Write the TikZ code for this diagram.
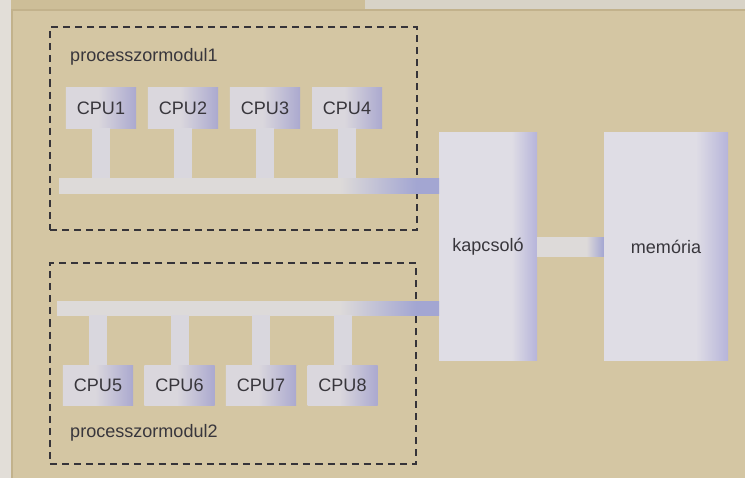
\documentclass[tikz,border=0pt]{standalone}
\usepackage{fontspec}
\setmainfont{Liberation Sans}
\usepackage{tikz}
\usetikzlibrary{positioning,fit,calc}

\definecolor{paper}{HTML}{D4C6A3}
\definecolor{paperdk}{HTML}{C2B28C}
\definecolor{edgeL}{HTML}{E2DED8}
\definecolor{edgeT}{HTML}{CDBE98}
\definecolor{edgeTR}{HTML}{D8D3C7}
\definecolor{cpuL}{HTML}{DAD7DD}
\definecolor{cpuR}{HTML}{ABA9CF}
\definecolor{blkL}{HTML}{DFDDE5}
\definecolor{blkR}{HTML}{B6B4DA}
\definecolor{busL}{HTML}{DDDAD9}
\definecolor{busR}{HTML}{A3A6D2}
\definecolor{stemc}{HTML}{D9D7DE}
\definecolor{dashc}{HTML}{363439}
\definecolor{txt}{HTML}{38363C}

\pgfdeclarehorizontalshading{cpushade}{100bp}{color(0bp)=(cpuL); color(25bp)=(cpuL);
  color(48bp)=(cpuL); color(75bp)=(cpuR); color(100bp)=(cpuR)}
\pgfdeclarehorizontalshading{blkshade}{100bp}{color(0bp)=(blkL); color(25bp)=(blkL);
  color(62bp)=(blkL); color(75bp)=(blkR); color(100bp)=(blkR)}
\pgfdeclarehorizontalshading{busshade}{100bp}{color(0bp)=(busL); color(25bp)=(busL);
  color(62bp)=(busL); color(72bp)=(busR); color(100bp)=(busR)}
\pgfdeclarehorizontalshading{linkshade}{100bp}{color(0bp)=(busL); color(25bp)=(busL);
  color(62bp)=(busL); color(75bp)=(busR); color(100bp)=(busR)}

\tikzset{
  cpu/.style={shading=cpushade,minimum width=2.1cm,minimum height=1.2cm,inner sep=0pt},
  blk/.style={shading=blkshade,minimum width=2.94cm,minimum height=6.81cm,inner sep=0pt},
  bus/.style={shading=busshade,inner sep=0pt},
  stem/.style={draw=stemc,line width=0.54cm},
  modbox/.style={draw=dashc,line width=2.4pt,dash pattern=on 6pt off 4.3pt},
  lbl/.style={anchor=west,inner sep=0pt},
}

\begin{document}
\begin{tikzpicture}[x=0.03cm,y=-0.03cm,
  every node/.style={font=\fontsize{15.4}{18}\selectfont,text=txt}]
\useasboundingbox (0,0) rectangle (745,478);

% photo edges
\fill[paper] (0,0) rectangle (745,478);
\fill[edgeL] (0,0) rectangle (11,478);
\fill[edgeT] (11,0) rectangle (365,9);
\fill[edgeTR] (365,0) rectangle (745,9);
\draw[paperdk,line width=1.2pt] (12,478) -- (12,10) -- (745,10);

% switch and memory
\node[blk] (kap) at (488,246.5) {kapcsoló};
\node[blk,minimum width=3.72cm] (mem) at (666,246.5) {memória};
\shade[shading=linkshade] ($(kap.east)+(0,-9)$) rectangle ($(mem.west)+(0,10)$);

% module 1
\node[modbox,minimum width=11.01cm,minimum height=6.09cm] (mod1) at (233.5,128.5) {};
\node[lbl] (lbl1) at (70,57) {processzormodul1};
\node[bus,fit={(59,178) (439,193)}] (bus1) {};
\foreach \x [count=\i] in {101,183,265,347}
  \node[cpu] (c\i) at (\x,108) {CPU\i};
\foreach \i in {1,...,4}
  \draw[stem] (c\i.south) -- (c\i.south |- bus1.north);

% module 2
\node[modbox,minimum width=10.98cm,minimum height=6.03cm] (mod2) at (233,363.5) {};
\node[lbl] (lbl2) at (70,433) {processzormodul2};
\node[bus,fit={(57,301) (439,315)}] (bus2) {};
\foreach \x [count=\i from 5] in {98,179.5,261,342.5}
  \node[cpu] (c\i) at (\x,385) {CPU\i};
\foreach \i in {5,...,8}
  \draw[stem] (c\i.north) -- (c\i.north |- bus2.south);

\end{tikzpicture}
\end{document}
